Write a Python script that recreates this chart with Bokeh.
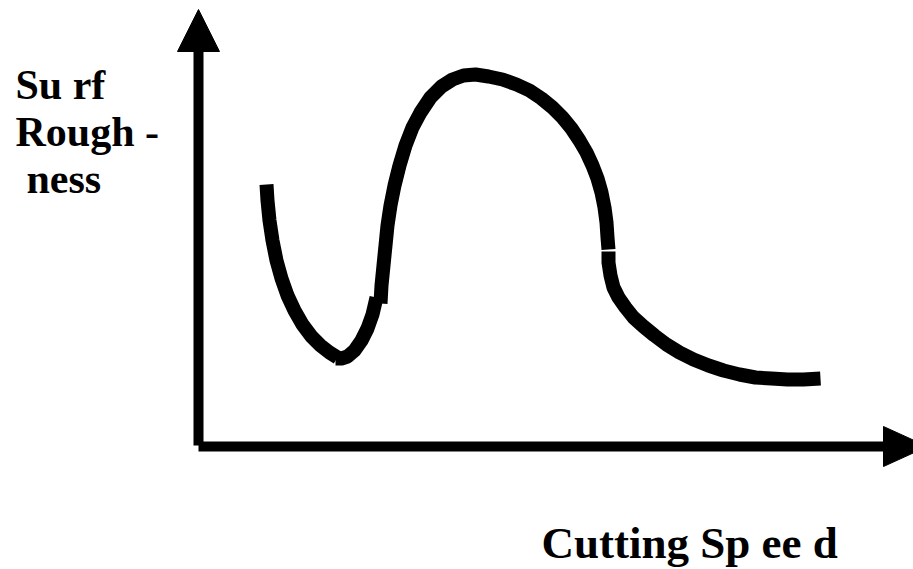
from bokeh.plotting import figure
from bokeh.models import Range1d, Label
from bokeh.embed import file_html
from bokeh.resources import INLINE

# Curve (cutting speed, surface roughness), drawn in 4 strokes
seg1_x = [68, 69, 71, 74, 78, 83, 89, 96, 104, 113, 122, 131, 139]
seg1_y = [262, 246, 226, 206, 186, 168, 151, 136, 122, 110, 101, 94, 89]
seg2_x = [137, 143, 149, 156, 163, 169, 174, 178]
seg2_y = [88, 88, 90, 96, 106, 118, 132, 149]
seg3_x = [182, 183, 185, 187, 189, 192, 196, 201, 207, 214, 222, 232, 243, 254, 265, 277,
          290, 304, 318, 331, 343, 354, 364, 373, 381, 388, 394, 399, 403, 406, 408, 409, 410]
seg3_y = [143, 161, 181, 201, 221, 241, 261, 281, 301, 319, 334, 349, 360, 367, 371, 372,
          370, 367, 362, 356, 348, 339, 329, 318, 306, 294, 281, 268, 254, 239, 224, 209, 197]
seg4_x = [410, 410, 412, 415, 420, 427, 435, 445, 456, 468, 481, 495, 510, 525, 541, 557,
          573, 589, 605, 622]
seg4_y = [195, 184, 171, 159, 149, 139, 129, 120, 111, 102, 94, 87, 81, 76, 72, 69,
          68, 67, 67, 68]

x_label = "Cutting Sp ee d"
y_label_lines = ["Su rf", "Rough -", "ness"]

# axis extents (data units)
X_AXIS_END = 686
X_ARROW_TIP = 729
Y_AXIS_END = 396
Y_ARROW_TIP = 437

p = figure(width=913, height=569, output_backend="svg", toolbar_location=None,
           x_range=Range1d(-198, 715), y_range=Range1d(-123, 446),
           x_axis_type=None, y_axis_type=None, min_border=0)
p.grid.visible = False
p.outline_line_color = None
p.background_fill_color = "white"
p.border_fill_color = "white"

# arrow axes
p.line([0, 0], [1, Y_AXIS_END], line_width=10, line_color="black", line_cap="butt")
p.line([0, X_AXIS_END], [0, 0], line_width=10, line_color="black", line_cap="butt")
p.patch([-21, 21, 0], [Y_AXIS_END - 1, Y_AXIS_END - 1, Y_ARROW_TIP], fill_color="black", line_color="black", line_width=1)
p.patch([X_AXIS_END - 1, X_AXIS_END - 1, X_ARROW_TIP], [20, -20, 0], fill_color="black", line_color="black", line_width=1)

for xs, ys in [(seg1_x, seg1_y), (seg2_x, seg2_y), (seg3_x, seg3_y), (seg4_x, seg4_y)]:
    p.line(xs, ys, line_width=14, line_color="black", line_cap="butt", line_join="round")

font = "Liberation Serif"
ypos = [362, 315, 268]
xpos = [-183, -183, -172]
for t, xx, yy in zip(y_label_lines, xpos, ypos):
    p.add_layout(Label(x=xx, y=yy, text=t, text_font=font, text_font_style="bold",
                       text_font_size="42px", text_color="black",
                       text_baseline="alphabetic", text_align="left"))

p.add_layout(Label(x=343, y=-96, text=x_label, text_font=font, text_font_style="bold",
                   text_font_size="45px", text_color="black",
                   text_baseline="alphabetic", text_align="left"))

open("out.html", "w").write(file_html(p, INLINE))
